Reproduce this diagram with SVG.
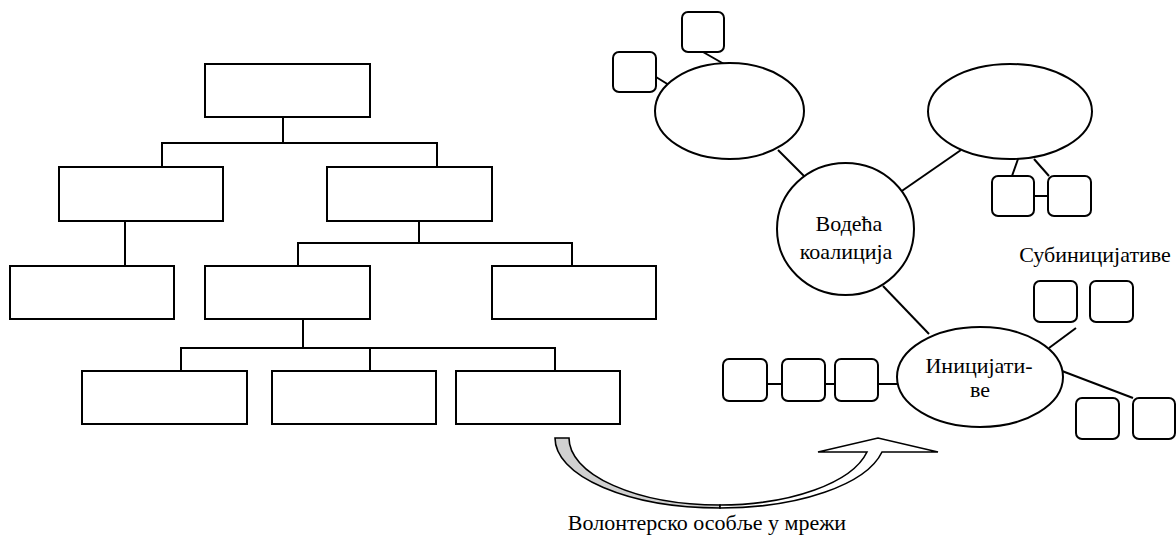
<svg xmlns="http://www.w3.org/2000/svg" width="1176" height="537" viewBox="0 0 1176 537">
  <style>
    .box { fill: #fff; stroke: #000; stroke-width: 2; }
    .rbox { fill: #fff; stroke: #000; stroke-width: 2; }
    .oval { fill: #fff; stroke: #000; stroke-width: 2; }
    .link { fill: none; stroke: #000; stroke-width: 2; }
    .lbl { font-family: "Liberation Serif", "Times New Roman", serif; font-size: 22px; fill: #000; text-anchor: middle; }
  </style>
  <rect width="1176" height="537" fill="#fff"/>

  <!-- connectors -->
  <g id="connectors" class="link">
    <!-- hierarchy tree -->
    <path d="M283,117 V143 M162,167 V143 H437 V167"/>
    <path d="M125,221 V266"/>
    <path d="M419,221 V243 M298,266 V243 H572 V266"/>
    <path d="M303,319 V348 M181,371 V348 H555 V371 M370,348 V371"/>
    <!-- network -->
    <path d="M703,52 L724,64"/>
    <path d="M656,77 L669,85"/>
    <path d="M778,150 L815,187"/>
    <path d="M961,150 L896,195"/>
    <path d="M1018,159 L1012,176"/>
    <path d="M1034,159 L1049,176"/>
    <path d="M1034,196 H1048"/>
    <path d="M883,286 L929,334"/>
    <path d="M1076,328 L1049,348"/>
    <path d="M1062,371 L1133,398"/>
    <path d="M767,384 H782 M825,384 H835 M878,384 H897"/>
  </g>

  <!-- hierarchy tree -->
  <g id="tree-root"><rect class="box" x="205" y="64" width="165" height="53"/></g>
  <g id="tree-l2-a"><rect class="box" x="59" y="167" width="164" height="54"/></g>
  <g id="tree-l2-b"><rect class="box" x="327" y="167" width="165" height="54"/></g>
  <g id="tree-l3-a"><rect class="box" x="10" y="266" width="164" height="53"/></g>
  <g id="tree-l3-b"><rect class="box" x="205" y="266" width="165" height="53"/></g>
  <g id="tree-l3-c"><rect class="box" x="492" y="266" width="164" height="53"/></g>
  <g id="tree-l4-a"><rect class="box" x="82" y="371" width="165" height="53"/></g>
  <g id="tree-l4-b"><rect class="box" x="272" y="371" width="164" height="53"/></g>
  <g id="tree-l4-c"><rect class="box" x="456" y="371" width="164" height="53"/></g>

  <!-- network -->
  <g id="oval-top-left"><ellipse class="oval" cx="729.5" cy="111" rx="74.5" ry="48"/></g>
  <g id="oval-top-right"><ellipse class="oval" cx="1010" cy="111.5" rx="82" ry="47.5"/></g>
  <g id="oval-lead">
    <ellipse class="oval" cx="845.5" cy="229" rx="68.5" ry="66"/>
    <text class="lbl" x="849" y="231">Водећа</text>
    <text class="lbl" x="846" y="259">коалиција</text>
  </g>
  <g id="oval-initiatives">
    <ellipse class="oval" cx="980" cy="377" rx="83" ry="50"/>
    <text class="lbl" x="979" y="373">Иницијати-</text>
    <text class="lbl" x="980" y="397">ве</text>
  </g>
  <g id="sub-label"><text class="lbl" x="1095" y="262">Субиницијативе</text></g>

  <g id="sq-1"><rect class="rbox" x="682" y="12" width="42" height="40" rx="6"/></g>
  <g id="sq-2"><rect class="rbox" x="613" y="52" width="43" height="40" rx="6"/></g>
  <g id="sq-3"><rect class="rbox" x="992" y="176" width="42" height="40" rx="6"/></g>
  <g id="sq-4"><rect class="rbox" x="1048" y="176" width="43" height="40" rx="6"/></g>
  <g id="sq-5"><rect class="rbox" x="1034" y="281" width="43" height="41" rx="6"/></g>
  <g id="sq-6"><rect class="rbox" x="1090" y="281" width="43" height="41" rx="6"/></g>
  <g id="sq-7"><rect class="rbox" x="723" y="359" width="44" height="42" rx="6"/></g>
  <g id="sq-8"><rect class="rbox" x="782" y="359" width="43" height="42" rx="6"/></g>
  <g id="sq-9"><rect class="rbox" x="835" y="359" width="43" height="42" rx="6"/></g>
  <g id="sq-10"><rect class="rbox" x="1076" y="398" width="43" height="41" rx="6"/></g>
  <g id="sq-11"><rect class="rbox" x="1133" y="398" width="42" height="41" rx="6"/></g>

  <!-- curved transition arrow -->
  <g id="curved-arrow" stroke="#000" stroke-width="1.6" stroke-linejoin="miter">
    <!-- shaded back half of the ribbon -->
    <path d="M555,438 L569,438 A151,67 0 0 0 720,505 L720,508 A165,70 0 0 1 555,438 Z" fill="#d0d0d0"/>
    <!-- front half of the ribbon with head -->
    <path d="M720,505 A151,67 0 0 0 867,452 L818,452 L878,438 L938,452 L882,452 A165,70 0 0 1 720,508 Z" fill="#fff"/>
  </g>
  <g id="arrow-label"><text class="lbl" x="707" y="530">Волонтерско особље у мрежи</text></g>
</svg>
